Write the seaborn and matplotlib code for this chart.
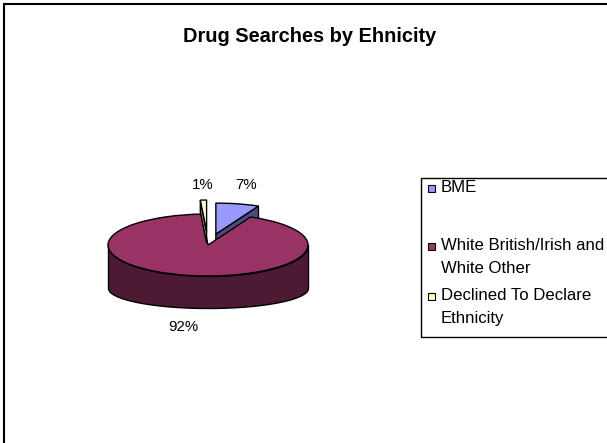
import numpy as np
import matplotlib
matplotlib.use("Agg")
import matplotlib.pyplot as plt
import seaborn as sns
from matplotlib.patches import Rectangle, Polygon

# ---- data ----
categories = ["BME", "White British/Irish and\nWhite Other", "Declined To Declare\nEthnicity"]
shares = [7, 92, 1]
pct_labels = ["7%", "92%", "1%"]
title = "Drug Searches by Ehnicity"

# ---- styles ----
top_colors = ["#9999FF", "#993366", "#FFFFCC"]
side_colors = ["#4D4D80", "#4C1A33", "#808066"]
explode = [0.36, 0.0, 0.45]

sns.set_theme(style="white")
plt.rcParams["font.family"] = ["Liberation Sans", "DejaVu Sans"]

W, H = 607, 443
fig = plt.figure(figsize=(W / 100, H / 100), dpi=100)
fig.patch.set_facecolor("white")


def fx(x):
    return x / W


def fy(y):
    return 1 - y / H


# pie axes: unit circle -> ellipse rx x ry pixels
cx, cy, rx, ry = 208, 245, 100, 31
ax = fig.add_axes([fx(cx - 1.5 * rx), fy(cy + 2.5 * ry), 3 * rx / W, 4 * ry / H])
wedges, _ = ax.pie(shares, colors=top_colors, startangle=90, counterclock=False,
                   explode=explode,
                   wedgeprops=dict(edgecolor="black", linewidth=1.0))
ax.set_aspect("auto")
ax.set_xlim(-1.5, 1.5)
ax.set_ylim(-2.5, 1.5)
ax.axis("off")

# front wall of the main slice (3-D look)
xs = np.linspace(-1, 1, 400)
upper = -np.sqrt(1 - xs ** 2)
lower = -43 / 31 - (20 / 31) * np.sqrt(1 - xs ** 2)
ax.fill_between(xs, lower, upper, facecolor=side_colors[1], edgecolor="black",
                linewidth=1.0, zorder=1)


def side_face(w, theta, depth, color, z):
    c = np.array(w.center, dtype=float)
    o = c + w.r * np.array([np.cos(np.radians(theta)), np.sin(np.radians(theta))])
    d = np.array([0, depth])
    ax.add_patch(Polygon([c, o, o - d, c - d], closed=True, facecolor=color,
                         edgecolor="black", linewidth=1.0, zorder=z))


side_face(wedges[0], wedges[0].theta1, 18 / 31, side_colors[0], 2)
side_face(wedges[2], wedges[2].theta2, 12 / 31, side_colors[2], 4.5)
wedges[1].set_zorder(3)
wedges[0].set_zorder(4)
wedges[2].set_zorder(5)

# percentage labels
label_px = [(246, 189), (183, 331), (203, 189)]
for txt, (px, py) in zip(pct_labels, label_px):
    fig.text(fx(px), fy(py), txt, ha="center", va="baseline", fontsize=10.8, color="black")

# title
fig.text(fx(310), fy(41.7), title, ha="center", va="baseline", fontsize=14.4,
         fontweight="bold", color="black")

# legend
fig.add_artist(Rectangle((fx(421), fy(337)), (620 - 421) / W, (337 - 178) / H,
                         transform=fig.transFigure, fill=False, edgecolor="black",
                         linewidth=1.0))
baselines = [192, 250, 300]
for i, (lab, base) in enumerate(zip(categories, baselines)):
    fig.add_artist(Rectangle((fx(428), fy(base)), 7 / W, 7 / H, transform=fig.transFigure,
                             facecolor=top_colors[i], edgecolor="black", linewidth=0.8))
    for j, line in enumerate(lab.split("\n")):
        fig.text(fx(441), fy(base + 23 * j), line, ha="left", va="baseline",
                 fontsize=12.1, color="black")

# outer chart border
fig.add_artist(Rectangle((fx(4), fy(460)), (620 - 4) / W, (460 - 4) / H,
                         transform=fig.transFigure, fill=False, edgecolor="black",
                         linewidth=1.5))

fig.savefig("out.png", dpi=100)
